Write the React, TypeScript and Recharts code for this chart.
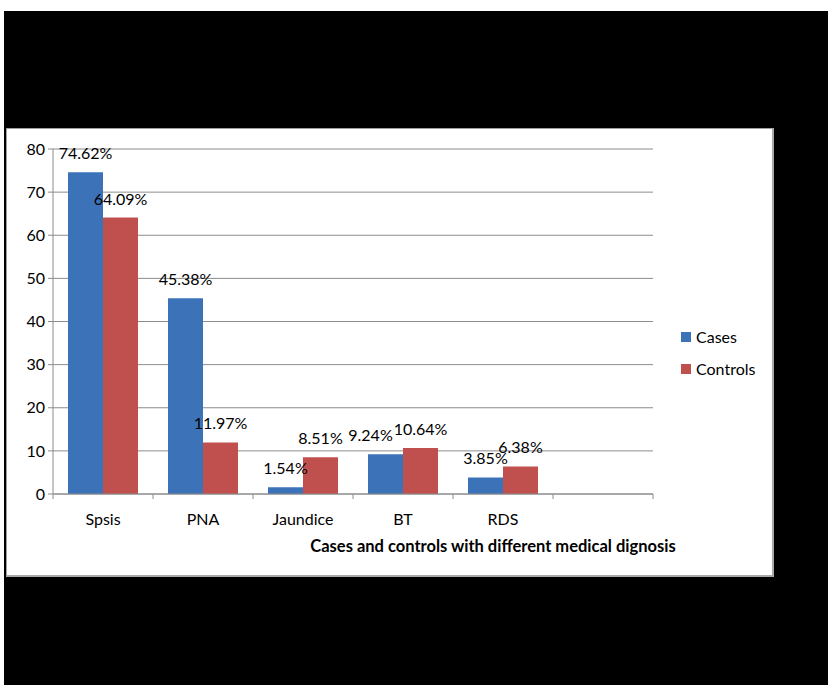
import React from "react";
import { BarChart, Bar, XAxis, YAxis, CartesianGrid, Legend, LabelList, Label } from "recharts";

const categories = ["Spsis", "PNA", "Jaundice", "BT", "RDS", ""];
const casesValues = [74.62, 45.38, 1.54, 9.24, 3.85, null];
const controlsValues = [64.09, 11.97, 8.51, 10.64, 6.38, null];
const yTicks = [0, 10, 20, 30, 40, 50, 60, 70, 80];
const seriesNames = ["Cases", "Controls"];
const seriesColors = ["#3C73B8", "#C0504D"];
const axisTitle = "Cases and controls with different medical dignosis";

const data = categories.map((name, i) => ({
  name,
  cases: casesValues[i],
  controls: controlsValues[i],
}));

const FONT = "Lato, 'Noto Sans', sans-serif";
const GRID = "#8c8c8c";

const makeLabel = (labelShift: Record<number, number>) => (props: any) => {
  const { x, y, width, value, index } = props;
  if (value === null || value === undefined) return null;
  const dx = labelShift[index] || 0;
  return (
    <text
      x={x + width / 2 + dx}
      y={y - 13}
      textAnchor="middle"
      fontFamily={FONT}
      fontSize={16}
      fill="#000"
    >
      {`${Number(value).toFixed(2)}%`}
    </text>
  );
};

const CategoryTick = (props: any) => {
  const { x, y, payload, index } = props;
  const half = 50;
  return (
    <g>
      <line x1={x - half} y1={y} x2={x - half} y2={y + 5} stroke={GRID} strokeWidth={1} />
      {index === categories.length - 1 && (
        <line x1={x + half} y1={y} x2={x + half} y2={y + 5} stroke={GRID} strokeWidth={1} />
      )}
      <text x={x} y={y + 31} textAnchor="middle" fontFamily={FONT} fontSize={16} fill="#000">
        {payload.value}
      </text>
    </g>
  );
};

const LegendContent = () => (
  <div style={{ position: "relative", width: 90, height: 60, fontFamily: FONT, fontSize: 16 }}>
    {seriesNames.map((n, i) => (
      <div key={n} style={{ position: "absolute", left: 0, top: i * 32, height: 18, display: "flex", alignItems: "center" }}>
        <span style={{ display: "inline-block", width: 10, height: 10, background: seriesColors[i], marginRight: 5 }} />
        <span style={{ color: "#000", lineHeight: "18px" }}>{n}</span>
      </div>
    ))}
  </div>
);

export default function App() {
  return (
    <div style={{ position: "absolute", left: 0, top: 0, width: 828, height: 685, background: "#fff", overflow: "hidden" }}>
      <div style={{ position: "absolute", left: 4, top: 11, width: 824, height: 674, background: "#000" }} />
      <div style={{ position: "absolute", left: 7, top: 129, width: 766, height: 447, background: "#fff" }}>
        <BarChart
          width={766}
          height={447}
          data={data}
          margin={{ top: 20, right: 30, bottom: 0, left: 0 }}
          barCategoryGap="15%"
          barGap={0}
        >
          <CartesianGrid vertical={false} stroke={GRID} strokeWidth={1} />
          <XAxis
            dataKey="name"
            height={82}
            axisLine={{ stroke: GRID }}
            tickLine={false}
            tickSize={0}
            tickMargin={0}
            tick={<CategoryTick />}
            interval={0}
          >
            <Label
              content={(p: any) => {
                const vb = p.viewBox;
                return (
                  <text
                    x={vb.x + 440}
                    y={vb.y + 58}
                    textAnchor="middle"
                    fontFamily={FONT}
                    fontSize={16.5}
                    fontWeight="bold"
                    fill="#000"
                  >
                    {axisTitle}
                  </text>
                );
              }}
            />
          </XAxis>
          <YAxis
            width={46}
            domain={[0, 80]}
            ticks={yTicks}
            interval={0}
            axisLine={{ stroke: GRID }}
            tickLine={{ stroke: GRID }}
            tickSize={5}
            tickMargin={3}
            tick={{ fontFamily: FONT, fontSize: 16, fill: "#000" }}
          />
          <Legend
            layout="vertical"
            align="right"
            verticalAlign="middle"
            content={<LegendContent />}
            wrapperStyle={{ position: "absolute", left: 674, top: 199, width: 90, height: 60 }}
          />
          <Bar dataKey="cases" name={seriesNames[0]} fill={seriesColors[0]} isAnimationActive={false}>
            <LabelList dataKey="cases" content={makeLabel({ 3: -15 })} />
          </Bar>
          <Bar dataKey="controls" name={seriesNames[1]} fill={seriesColors[1]} isAnimationActive={false}>
            <LabelList dataKey="controls" content={makeLabel({})} />
          </Bar>
        </BarChart>
      </div>
      <div
        style={{
          position: "absolute",
          left: 6,
          top: 128,
          width: 768,
          height: 449,
          boxSizing: "border-box",
          border: "1px solid #a0a0a0",
          borderRight: "2px solid #a8a8a8",
          borderBottom: "2px solid #a8a8a8",
          pointerEvents: "none",
        }}
      />
    </div>
  );
}
